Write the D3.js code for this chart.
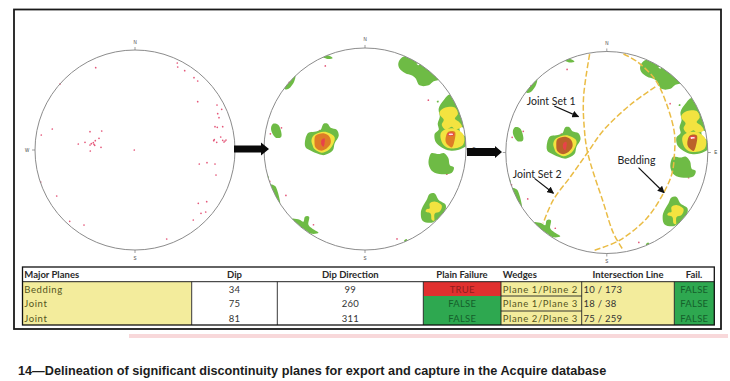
<!DOCTYPE html>
<html>
<head>
<meta charset="utf-8">
<script src="https://cdnjs.cloudflare.com/ajax/libs/d3/7.8.5/d3.min.js"></script>
<style>
  html, body { margin: 0; padding: 0; background: #fff; }
  svg { display: block; }
</style>
</head>
<body>
<script>
const poles = [
  [-39.3,82.3],[42.3,87],[42.7,83],[49.7,79.3],[59,72.3],[62.7,69],[-75,66],[62.7,48.3],
  [82,45],[86.7,40.7],[82.7,36.3],[84,32.3],[80,23.3],[82.3,22.7],[87.7,23.3],[85.7,13],
  [79.3,10.3],[78.7,9.3],[81.7,7.7],[87.7,9.7],[89,8],[91,10],[90,9],[-82.7,21],[-93.7,15],
  [-45,18.3],[-33.3,19],[-36,11.7],[-39.7,9.3],[-41.7,7.3],[-43.7,6.3],[-41,5.7],[-45,5],
  [-50,7.7],[-56.7,6],[-40.3,4.7],[-34,2.7],[-44.7,-1],[64.3,-14],[72,-12.7],
  [80,-14],[81,-25],[-94.3,-32],[-78.3,-46],[63.3,-53.3],[71.7,-51.7],[66,-63.3],[70.7,-62],
  [58.3,-70],[-65.3,-71.3],[-51,-75],[31.7,-89]
];
// the vertical pole at the centre only shows on the first net
const centrePole = [[-0.7,0]];

// density contours, lowest level first
const greenContours = [
  [[-42,91],[-38,93],[-32,90],[-36,89],[-40,90]],
  [[-80,60],[-77,67],[-69,73],[-70,67],[-74,61],[-78,59]],
  [[-93,21],[-91,25],[-86,24],[-83,17],[-83,12],[-88,11],[-92,16]],
  [[-59,10],[-56,16],[-50,17],[-44,19],[-41,25],[-37,25],[-34,21],[-28,19],[-26,13],[-30,5.6],[-32,-1.6],[-40,-6],[-46,-5],[-54,-1.6],[-59,2]],
  [[33,85],[36,90],[40,92],[48,90],[60,82],[72,72],[75,69],[68,67],[63,63],[54,63],[50,70],[46,73],[40,75],[34,80]],
  [[73,40],[78,48.5],[84,54],[92,46],[98,29],[102,12],[101,4],[92,-1],[84,-1.6],[76,1.6],[70,7],[69,15],[73,19],[72,25],[74,32]],
  [[64,-7],[66,-4],[73,-5],[78,-4],[82.5,-9],[84,-16],[88,-18],[86,-23.4],[76,-25],[67,-22.4],[63,-15]],
  [[61,-50.5],[64,-44.5],[69,-44],[73,-50.5],[80,-55.4],[78,-64],[71,-70],[66,-73],[57,-71],[55.4,-62],[58,-55.4]],
  [[-99,-22],[-95,-29],[-97,-31]],
  [[-94,-35],[-89,-36.7],[-87,-40.6],[-84,-54],[-86,-52],[-90,-44],[-92,-40]],
  [[-72,-69],[-64.7,-70],[-61,-72],[-59.4,-67],[-55.4,-67],[-56,-75],[-52,-79],[-46,-83],[-53,-84],[-59.4,-80],[-66,-75]],
  [[38.6,-91],[41,-89],[42,-91],[40,-92]],
  [[71,47],[72.5,48],[73,46.5],[71.5,46]]
];
const whiteContours = [
  [[94,22],[99,20],[100,13],[95,15]],
  [[51,84.5],[53,83],[54,84.5]]
];
const yellowContours = [
  [[-53,9],[-50,14],[-41,17],[-35,15.5],[-30,11.5],[-32,4],[-36,-1],[-43,-3.6],[-50,0],[-52,4]],
  [[74,37],[79.5,41],[89,41],[92,35],[89,30],[93,27],[96,22],[89,19.5],[86,22],[80,19],[76,24],[78,29],[74,34]],
  [[75,15.5],[81,20],[91,19.5],[98,13],[97,4],[89,0.7],[81,1.6],[76,7]],
  [[64,-54],[69,-52],[76,-56],[74,-62],[69,-64],[68.5,-71],[66,-70],[65,-64],[60,-62],[61,-59.7],[64,-59]]
];
const orangeContours = [
  [[-50,7],[-49,13],[-41,15.5],[-35,12],[-34,5.6],[-38,0.6],[-44,-1.6],[-49,1.6]],
  [[80,12],[82.5,17],[89,17],[88,5.6],[86,1.6],[82,4],[80,7]]
];
const redContours = [
  [[-43,9],[-40,10.5],[-40,5.6],[-41,2.3],[-43,4]],
  [[82,15.5],[87.5,16],[88,13.5],[82,13.5]]
];
const peakContours = [
  [[83,15],[87,15],[87,14],[83,14]]
];

// planes traced on the third net
const beddingArc = [[16.5,97.5],[30,90],[48,72],[59,48.5],[67,19],[67,-1],[64.5,-21],[56,-40.4],[39.6,-65],[13,-86.7],[-13,-97]];
const jointArc1 = [[-17,97.5],[-23,55],[-22.4,25.6],[-19,0],[-3.3,-50],[6.6,-80],[16.5,-97]];
const jointArc2 = [[48,65],[23,47],[-3.3,22],[-19,0],[-36,-24],[-53,-47],[-63,-70]];

const noteLabels = ["Joint Set 1", "Joint Set 2", "Bedding"];
const noteAnchors = [[-79.2,51],[-93,-21.3],[10.6,-7.4]];
const noteArrows = [[[-52,46],[-28,35.5]],[[-71.6,-25.6],[-52.8,-40.4]],[[31.4,-15],[56.8,-39.8]]];

// table
const headers = ["Major Planes","Dip","Dip Direction","Plain Failure","Wedges","Intersection Line","Fail."];
const planeNames = ["Bedding","Joint","Joint"];
const dips = ["34","75","81"];
const dipDirections = ["99","260","311"];
const plainFailure = ["TRUE","FALSE","FALSE"];
const wedges = ["Plane 1/Plane 2","Plane 1/Plane 3","Plane 2/Plane 3"];
const intersections = ["10 / 173","18 / 38","75 / 259"];
const wedgeFailure = ["FALSE","FALSE","FALSE"];

const caption = "14\u2014Delineation of significant discontinuity planes for export and capture in the Acquire database";

const width = 730, height = 381;
const svg = d3.select("body").append("svg").attr("width", width).attr("height", height);

const defs = svg.append("defs");
defs.append("filter").attr("id", "soft").append("feGaussianBlur").attr("stdDeviation", 0.5);
defs.append("marker").attr("id", "head")
    .attr("viewBox", "0 0 10 10").attr("refX", 9).attr("refY", 5)
    .attr("markerWidth", 7).attr("markerHeight", 7).attr("markerUnits", "userSpaceOnUse")
    .attr("orient", "auto")
  .append("path").attr("d", "M0,0L10,5L0,10Z").attr("fill", "#111");

// outer frame
svg.append("rect").attr("x", 14).attr("y", 9.5).attr("width", 707).attr("height", 319.5)
    .attr("fill", "none").attr("stroke", "#1a1a1a").attr("stroke-width", 1.8);

function drawNet(id, cx, cy, r, orange) {
  const x = d3.scaleLinear().domain([-100, 100]).range([cx - r, cx + r]);
  const y = d3.scaleLinear().domain([-100, 100]).range([cy + r, cy - r]);
  const g = svg.append("g");

  defs.append("clipPath").attr("id", id).append("circle")
      .attr("cx", cx).attr("cy", cy).attr("r", r);

  const shown = orange ? poles : poles.concat(centrePole);
  g.append("g").selectAll("circle")
    .data(shown).enter().append("circle")
      .attr("cx", d => x(d[0])).attr("cy", d => y(d[1]))
      .attr("r", 0.85).attr("fill", "#e4587a");

  if (orange) {
    const levels = [
      [greenContours, "#6ebb45"],
      [whiteContours, "#fff"],
      [yellowContours, "#f3e33f"],
      [orangeContours, orange],
      [redContours, "#e8434a"],
      [peakContours, "#fbe3e3"]
    ];
    const ring = d3.line().x(d => x(d[0])).y(d => y(d[1])).curve(d3.curveCatmullRomClosed);
    const cg = g.append("g").attr("clip-path", "url(#" + id + ")").append("g").attr("filter", "url(#soft)");
    levels.forEach(function(level) {
      cg.selectAll(null).data(level[0]).enter().append("path")
          .attr("d", ring).attr("fill", level[1]);
    });
  }

  g.append("circle").attr("cx", cx).attr("cy", cy).attr("r", r)
      .attr("fill", "none").attr("stroke", "#8c8c8c").attr("stroke-width", 1);

  // compass ticks and letters
  const compass = [["N",0,1],["E",1,0],["S",0,-1],["W",-1,0]];
  compass.forEach(function(c) {
    g.append("line")
        .attr("x1", x(c[1] * 100)).attr("y1", y(c[2] * 100))
        .attr("x2", x(c[1] * 103)).attr("y2", y(c[2] * 103))
        .attr("stroke", "#777").attr("stroke-width", 0.7);
    g.append("text")
        .attr("x", x(c[1] * 108)).attr("y", y(c[2] * 108))
        .attr("text-anchor", "middle").attr("dominant-baseline", "central")
        .attr("font-family", "Liberation Sans").attr("font-size", 4.5).attr("fill", "#444")
        .text(c[0]);
  });
  return {x: x, y: y, g: g};
}

drawNet("net1", 135, 150, 100, null);
drawNet("net2", 365, 149, 101, "#de7d28");
const net3 = drawNet("net3", 606.8, 152.5, 101, "#bb622c");

// block arrows between the nets
function blockArrow(x0, x1, yc, shaft, head, headLen) {
  const p = d3.path();
  p.moveTo(x0, yc - shaft);
  p.lineTo(x1 - headLen, yc - shaft);
  p.lineTo(x1 - headLen, yc - head);
  p.lineTo(x1, yc);
  p.lineTo(x1 - headLen, yc + head);
  p.lineTo(x1 - headLen, yc + shaft);
  p.lineTo(x0, yc + shaft);
  p.closePath();
  svg.append("path").attr("d", p.toString()).attr("fill", "#0a0a0a");
}
blockArrow(234, 269, 149, 3.5, 6.5, 8);
blockArrow(467, 502, 152, 4, 6, 7);

// planes on the last net
const arc = d3.line().x(d => net3.x(d[0])).y(d => net3.y(d[1])).curve(d3.curveCatmullRom);
net3.g.selectAll(null).data([beddingArc, jointArc1, jointArc2]).enter().append("path")
    .attr("d", arc).attr("fill", "none")
    .attr("stroke", "#eabc45").attr("stroke-width", 1.5).attr("stroke-dasharray", "6,2.5");

net3.g.selectAll(null).data(noteLabels).enter().append("text")
    .attr("x", (d, i) => net3.x(noteAnchors[i][0])).attr("y", (d, i) => net3.y(noteAnchors[i][1]))
    .attr("dominant-baseline", "central")
    .attr("font-family", "Lato").attr("font-size", 10.5).attr("fill", "#222")
    .text(d => d);

net3.g.selectAll(null).data(noteArrows).enter().append("line")
    .attr("x1", d => net3.x(d[0][0])).attr("y1", d => net3.y(d[0][1]))
    .attr("x2", d => net3.x(d[1][0])).attr("y2", d => net3.y(d[1][1]))
    .attr("stroke", "#111").attr("stroke-width", 1.2).attr("marker-end", "url(#head)");

// table
const colEdges = [22.5, 191.7, 277.3, 423.3, 501, 581.7, 674.3, 714.3];
const rowEdges = [267, 281.7, 296, 311, 325];
const tableFont = "Lato";
const yellow = "#f3ec9c", red = "#e1302f", green = "#2ea850";
const columns = [planeNames, dips, dipDirections, plainFailure, wedges, intersections, wedgeFailure];
const anchors = ["start","middle","middle","middle","start","start","middle"];

function cellFill(col, value) {
  if (col === 0 || col === 4 || col === 5) return yellow;
  if (col === 3 || col === 6) return value === "TRUE" ? red : green;
  return "#fff";
}
function cellInk(col, value) {
  if (col === 3 || col === 6) return value === "TRUE" ? "#8f1d1d" : "#155f2b";
  if (col === 0 || col === 4) return "#54541c";
  return "#333";
}
function cellX(col) {
  if (anchors[col] === "middle") return (colEdges[col] + colEdges[col + 1]) / 2;
  return colEdges[col] + 1.8;
}

const table = svg.append("g");
columns.forEach(function(values, col) {
  table.selectAll(null).data(values).enter().append("rect")
      .attr("x", colEdges[col]).attr("y", (d, i) => rowEdges[i + 1])
      .attr("width", colEdges[col + 1] - colEdges[col])
      .attr("height", (d, i) => rowEdges[i + 2] - rowEdges[i + 1])
      .attr("fill", d => cellFill(col, d));
  table.selectAll(null).data(values).enter().append("text")
      .attr("x", cellX(col)).attr("y", (d, i) => (rowEdges[i + 1] + rowEdges[i + 2]) / 2 + 0.3)
      .attr("text-anchor", anchors[col]).attr("dominant-baseline", "central")
      .attr("font-family", tableFont).attr("font-size", 9.5).attr("letter-spacing", col === 0 || col === 4 ? 0.6 : 0.25)
      .attr("fill", d => cellInk(col, d))
      .text(d => d);
});

const headerCentres = [null, null, null, 462, null, 628, 694];
table.selectAll(null).data(headers).enter().append("text")
    .attr("x", (d, i) => headerCentres[i] || cellX(i))
    .attr("y", (rowEdges[0] + rowEdges[1]) / 2 + 0.3)
    .attr("text-anchor", (d, i) => headerCentres[i] ? "middle" : anchors[i])
    .attr("dominant-baseline", "central")
    .attr("font-family", tableFont).attr("font-weight", 700).attr("font-size", 9.5).attr("fill", "#2a2a2a")
    .text(d => d);

// grid lines
const ink = "#222";
function rule(x1, y1, x2, y2, w) {
  table.append("line").attr("x1", x1).attr("y1", y1).attr("x2", x2).attr("y2", y2)
      .attr("stroke", ink).attr("stroke-width", w);
}
rule(colEdges[0], rowEdges[1], colEdges[7], rowEdges[1], 1);
[1, 2, 3, 4, 5, 6].forEach(c => rule(colEdges[c], rowEdges[1], colEdges[c], rowEdges[4], 0.9));
[2, 3].forEach(r => rule(colEdges[4], rowEdges[r], colEdges[5], rowEdges[r], 0.9));
table.append("rect").attr("x", colEdges[0]).attr("y", rowEdges[0])
    .attr("width", colEdges[7] - colEdges[0]).attr("height", rowEdges[4] - rowEdges[0])
    .attr("fill", "none").attr("stroke", "#111").attr("stroke-width", 1.3);

// pink page rule and caption
svg.append("rect").attr("x", 129).attr("y", 334).attr("width", 599).attr("height", 4).attr("fill", "#f8d8da");
svg.append("text").attr("x", 18).attr("y", 375)
    .attr("font-family", "Liberation Sans").attr("font-weight", 700).attr("font-size", 12.7)
    .attr("fill", "#1c1c1c").text(caption);
</script>
</body>
</html>
